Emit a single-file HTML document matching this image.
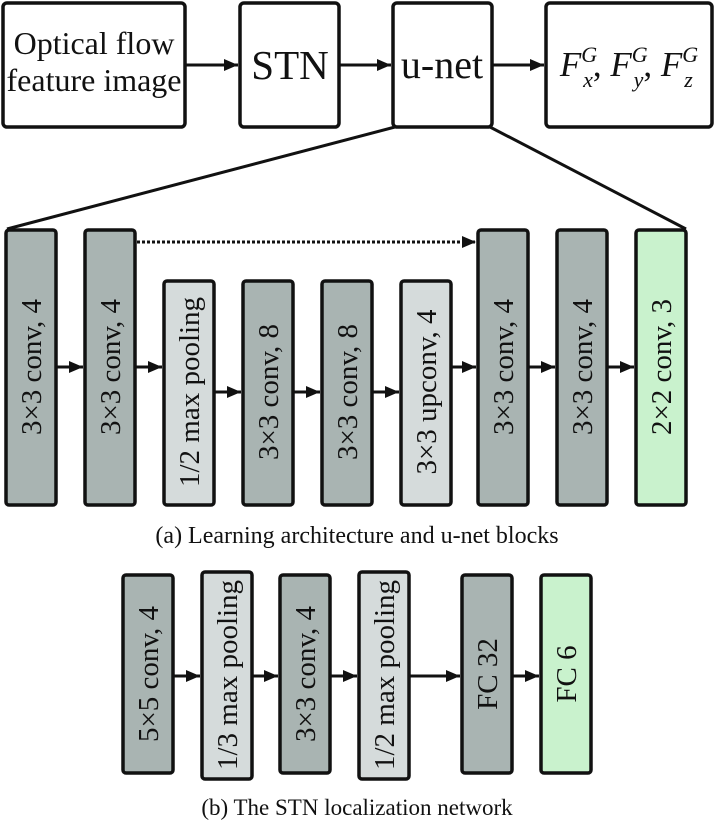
<!DOCTYPE html>
<html><head><meta charset="utf-8"><style>
html,body{margin:0;padding:0;background:#fff;}
svg{display:block;}
text{font-family:"Liberation Serif",serif;fill:#111;}
</style></head><body>
<svg width="714" height="820" viewBox="0 0 714 820" xmlns="http://www.w3.org/2000/svg" font-family="Liberation Serif, serif">
<defs>
<marker id="a2" viewBox="0 0 14 12" markerWidth="14" markerHeight="12" refX="14" refY="6" orient="auto" markerUnits="userSpaceOnUse">
<path d="M0,0 L14,6 L0,12 Z" fill="#111"/>
</marker>
</defs>
<g stroke="#111" stroke-width="3.5" fill="#fff">
<rect x="3" y="3" width="182" height="124" rx="4"/>
<rect x="240" y="3" width="99" height="124" rx="4"/>
<rect x="393" y="3" width="99" height="124" rx="4"/>
<rect x="546" y="3" width="166" height="124" rx="4"/>
</g>
<g stroke="#111" stroke-width="3" fill="none">
<line x1="186" y1="65" x2="238" y2="65" marker-end="url(#a2)"/>
<line x1="340" y1="65" x2="391" y2="65" marker-end="url(#a2)"/>
<line x1="493" y1="65" x2="544" y2="65" marker-end="url(#a2)"/>
<line x1="395" y1="127" x2="7" y2="229"/>
<line x1="490" y1="127" x2="686" y2="229"/>
</g>
<text x="94" y="54" font-size="32" text-anchor="middle" font-family="Liberation Serif, serif">Optical flow</text>
<text x="94" y="91" font-size="32" text-anchor="middle" font-family="Liberation Serif, serif">feature image</text>
<text x="290" y="79" font-size="41" text-anchor="middle" font-family="Liberation Serif, serif">STN</text>
<text x="442" y="78" font-size="40" text-anchor="middle" font-family="Liberation Serif, serif">u-net</text>
<text x="629" y="76" font-size="35" text-anchor="middle" font-style="italic" font-family="Liberation Serif, serif">F<tspan font-size="22" dy="-14">G</tspan><tspan font-size="22" dx="-14" dy="25">x</tspan><tspan dy="-11" font-style="normal">,</tspan> F<tspan font-size="22" dy="-14">G</tspan><tspan font-size="22" dx="-14" dy="25">y</tspan><tspan dy="-11" font-style="normal">,</tspan> F<tspan font-size="22" dy="-14">G</tspan><tspan font-size="22" dx="-14" dy="25">z</tspan></text>

<g stroke="#111" stroke-width="3.5">
<rect x="6" y="230" width="50" height="275" rx="3" fill="#a9b4b2"/>
<rect x="85" y="230" width="50" height="275" rx="3" fill="#a9b4b2"/>
<rect x="164" y="281" width="50" height="224" rx="3" fill="#d5dbdb"/>
<rect x="243" y="281" width="50" height="224" rx="3" fill="#a9b4b2"/>
<rect x="322" y="281" width="50" height="224" rx="3" fill="#a9b4b2"/>
<rect x="401" y="281" width="50" height="224" rx="3" fill="#d5dbdb"/>
<rect x="478" y="230" width="50" height="275" rx="3" fill="#a9b4b2"/>
<rect x="557" y="230" width="50" height="275" rx="3" fill="#a9b4b2"/>
<rect x="636" y="230" width="50" height="275" rx="3" fill="#c9f2cd"/>
</g>
<g stroke="#111" stroke-width="3" fill="none">
<line x1="57" y1="367" x2="83" y2="367" marker-end="url(#a2)"/>
<line x1="136" y1="367" x2="162" y2="367" marker-end="url(#a2)"/>
<line x1="215" y1="392" x2="241" y2="392" marker-end="url(#a2)"/>
<line x1="294" y1="392" x2="320" y2="392" marker-end="url(#a2)"/>
<line x1="373" y1="392" x2="399" y2="392" marker-end="url(#a2)"/>
<line x1="452" y1="367" x2="476" y2="367" marker-end="url(#a2)"/>
<line x1="529" y1="367" x2="555" y2="367" marker-end="url(#a2)"/>
<line x1="608" y1="367" x2="634" y2="367" marker-end="url(#a2)"/>
<line x1="137" y1="242" x2="476" y2="242" stroke-dasharray="3,2" marker-end="url(#a2)"/>
</g>
<g font-size="29" text-anchor="middle" font-family="Liberation Serif, serif">
<text transform="translate(41,367) rotate(-90)">3×3 conv, 4</text>
<text transform="translate(120,367) rotate(-90)">3×3 conv, 4</text>
<text transform="translate(199,392) rotate(-90)">1/2 max pooling</text>
<text transform="translate(278,392) rotate(-90)">3×3 conv, 8</text>
<text transform="translate(357,392) rotate(-90)">3×3 conv, 8</text>
<text transform="translate(436,392) rotate(-90)">3×3 upconv, 4</text>
<text transform="translate(513,367) rotate(-90)">3×3 conv, 4</text>
<text transform="translate(592,367) rotate(-90)">3×3 conv, 4</text>
<text transform="translate(671,367) rotate(-90)">2×2 conv, 3</text>
</g>
<text x="357" y="543" font-size="24" text-anchor="middle" font-family="Liberation Serif, serif">(a) Learning architecture and u-net blocks</text>

<g stroke="#111" stroke-width="3.5">
<rect x="123" y="575" width="50" height="198" rx="3" fill="#a9b4b2"/>
<rect x="202" y="572" width="50" height="207" rx="3" fill="#d5dbdb"/>
<rect x="280" y="575" width="50" height="198" rx="3" fill="#a9b4b2"/>
<rect x="359" y="572" width="50" height="207" rx="3" fill="#d5dbdb"/>
<rect x="462" y="575" width="50" height="198" rx="3" fill="#a9b4b2"/>
<rect x="541" y="575" width="50" height="198" rx="3" fill="#c9f2cd"/>
</g>
<g stroke="#111" stroke-width="3" fill="none">
<line x1="174" y1="676" x2="200" y2="676" marker-end="url(#a2)"/>
<line x1="253" y1="676" x2="278" y2="676" marker-end="url(#a2)"/>
<line x1="331" y1="676" x2="357" y2="676" marker-end="url(#a2)"/>
<line x1="410" y1="676" x2="460" y2="676" marker-end="url(#a2)"/>
<line x1="513" y1="676" x2="539" y2="676" marker-end="url(#a2)"/>
</g>
<g font-size="29" text-anchor="middle" font-family="Liberation Serif, serif">
<text transform="translate(158,674) rotate(-90)">5×5 conv, 4</text>
<text transform="translate(237,675) rotate(-90)">1/3 max pooling</text>
<text transform="translate(315,674) rotate(-90)">3×3 conv, 4</text>
<text transform="translate(394,675) rotate(-90)">1/2 max pooling</text>
<text transform="translate(497,674) rotate(-90)">FC 32</text>
<text transform="translate(576,674) rotate(-90)">FC 6</text>
</g>
<text x="357" y="815" font-size="23" text-anchor="middle" font-family="Liberation Serif, serif">(b) The STN localization network</text>
</svg>
</body></html>
